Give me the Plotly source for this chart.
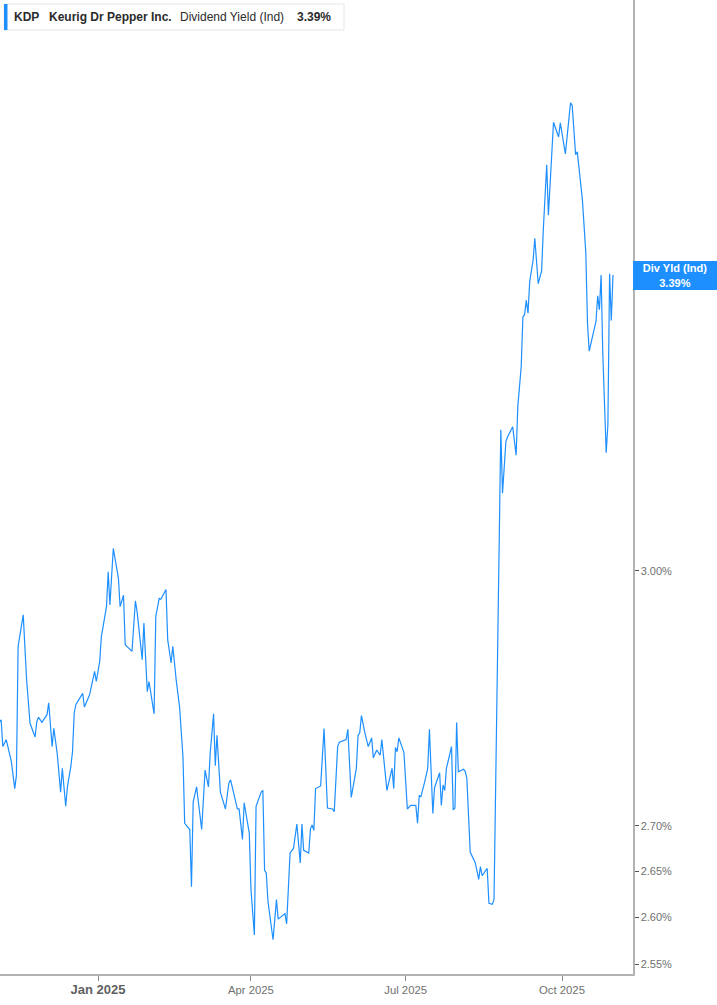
import math
import plotly.graph_objects as go

# ---- data ----
dates = [
    "2024-11-04", "2024-11-05", "2024-11-06", "2024-11-08", "2024-11-11", "2024-11-13", "2024-11-14", "2024-11-15",
    "2024-11-18", "2024-11-20", "2024-11-22", "2024-11-25", "2024-11-26", "2024-11-27", "2024-11-29", "2024-12-02",
    "2024-12-03", "2024-12-05", "2024-12-06", "2024-12-08", "2024-12-10", "2024-12-11", "2024-12-13", "2024-12-14",
    "2024-12-16", "2024-12-17", "2024-12-18", "2024-12-19", "2024-12-23", "2024-12-24", "2024-12-27", "2024-12-30",
    "2024-12-31", "2025-01-02", "2025-01-03", "2025-01-05", "2025-01-06", "2025-01-07", "2025-01-08", "2025-01-10",
    "2025-01-13", "2025-01-14", "2025-01-16", "2025-01-17", "2025-01-21", "2025-01-23", "2025-01-24", "2025-01-27",
    "2025-01-28", "2025-01-30", "2025-01-31", "2025-02-03", "2025-02-04", "2025-02-06", "2025-02-07", "2025-02-10",
    "2025-02-11", "2025-02-13", "2025-02-14", "2025-02-16", "2025-02-18", "2025-02-20", "2025-02-21", "2025-02-24",
    "2025-02-25", "2025-02-26", "2025-02-28", "2025-03-03", "2025-03-04", "2025-03-05", "2025-03-07", "2025-03-08",
    "2025-03-10", "2025-03-11", "2025-03-12", "2025-03-14", "2025-03-17", "2025-03-19", "2025-03-20", "2025-03-24",
    "2025-03-25", "2025-03-27", "2025-03-28", "2025-03-31", "2025-04-01", "2025-04-03", "2025-04-04", "2025-04-07",
    "2025-04-08", "2025-04-09", "2025-04-10", "2025-04-11", "2025-04-14", "2025-04-16", "2025-04-17", "2025-04-21",
    "2025-04-22", "2025-04-24", "2025-04-26", "2025-04-28", "2025-04-30", "2025-05-01", "2025-05-02", "2025-05-05",
    "2025-05-06", "2025-05-07", "2025-05-08", "2025-05-09", "2025-05-12", "2025-05-14", "2025-05-16", "2025-05-19",
    "2025-05-20", "2025-05-22", "2025-05-23", "2025-05-27", "2025-05-28", "2025-05-30", "2025-06-02", "2025-06-03",
    "2025-06-04", "2025-06-05", "2025-06-07", "2025-06-09", "2025-06-11", "2025-06-12", "2025-06-14", "2025-06-16",
    "2025-06-17", "2025-06-20", "2025-06-23", "2025-06-24", "2025-06-25", "2025-06-26", "2025-06-27", "2025-06-30",
    "2025-07-02", "2025-07-04", "2025-07-07", "2025-07-08", "2025-07-09", "2025-07-10", "2025-07-12", "2025-07-14",
    "2025-07-15", "2025-07-17", "2025-07-18", "2025-07-21", "2025-07-22", "2025-07-23", "2025-07-24", "2025-07-25",
    "2025-07-28", "2025-07-29", "2025-07-30", "2025-07-31", "2025-08-01", "2025-08-04", "2025-08-05", "2025-08-06",
    "2025-08-08", "2025-08-11", "2025-08-13", "2025-08-14", "2025-08-15", "2025-08-18", "2025-08-19", "2025-08-21",
    "2025-08-22", "2025-08-26", "2025-08-27", "2025-08-29", "2025-08-30", "2025-09-02", "2025-09-04", "2025-09-05",
    "2025-09-07", "2025-09-08", "2025-09-09", "2025-09-10", "2025-09-11", "2025-09-12", "2025-09-14", "2025-09-15",
    "2025-09-17", "2025-09-19", "2025-09-20", "2025-09-22", "2025-09-23", "2025-09-25", "2025-09-26", "2025-09-29",
    "2025-09-30", "2025-10-03", "2025-10-06", "2025-10-07", "2025-10-09", "2025-10-10", "2025-10-13", "2025-10-15",
    "2025-10-16", "2025-10-17", "2025-10-21", "2025-10-22", "2025-10-23", "2025-10-24", "2025-10-25", "2025-10-27",
    "2025-10-28", "2025-10-29", "2025-10-30", "2025-10-31",
]

div_yield = [
    2.818, 2.821, 2.790, 2.798, 2.773, 2.742, 2.757, 2.908,
    2.946, 2.868, 2.817, 2.801, 2.819, 2.824, 2.818, 2.827,
    2.841, 2.790, 2.811, 2.782, 2.738, 2.765, 2.722, 2.744,
    2.767, 2.784, 2.829, 2.839, 2.852, 2.836, 2.850, 2.878,
    2.866, 2.890, 2.920, 2.942, 2.956, 2.999, 2.958, 3.028,
    2.991, 2.956, 2.970, 2.910, 2.902, 2.963, 2.950, 2.892,
    2.936, 2.854, 2.866, 2.828, 2.944, 2.966, 2.965, 2.977,
    2.916, 2.888, 2.908, 2.868, 2.836, 2.778, 2.703, 2.696,
    2.633, 2.727, 2.744, 2.696, 2.738, 2.763, 2.744, 2.782,
    2.828, 2.768, 2.803, 2.738, 2.719, 2.748, 2.752, 2.719,
    2.719, 2.685, 2.726, 2.692, 2.630, 2.581, 2.722, 2.738,
    2.740, 2.651, 2.648, 2.617, 2.576, 2.619, 2.598, 2.604,
    2.593, 2.670, 2.675, 2.702, 2.659, 2.702, 2.673, 2.670,
    2.697, 2.701, 2.695, 2.742, 2.745, 2.811, 2.720, 2.719,
    2.716, 2.790, 2.795, 2.798, 2.810, 2.732, 2.765, 2.803,
    2.806, 2.826, 2.806, 2.790, 2.800, 2.777, 2.786, 2.780,
    2.798, 2.740, 2.765, 2.742, 2.789, 2.784, 2.800, 2.783,
    2.719, 2.723, 2.723, 2.703, 2.734, 2.733, 2.748, 2.765,
    2.810, 2.714, 2.743, 2.760, 2.723, 2.746, 2.740, 2.765,
    2.790, 2.718, 2.720, 2.818, 2.761, 2.764, 2.762, 2.754,
    2.671, 2.659, 2.641, 2.655, 2.645, 2.653, 2.615, 2.614,
    2.619, 3.180, 3.098, 3.165, 3.171, 3.184, 3.147, 3.211,
    3.264, 3.332, 3.335, 3.355, 3.337, 3.381, 3.411, 3.442,
    3.378, 3.396, 3.454, 3.548, 3.475, 3.560, 3.611, 3.589,
    3.610, 3.564, 3.640, 3.636, 3.563, 3.567, 3.497, 3.422,
    3.323, 3.285, 3.326, 3.361, 3.342, 3.390, 3.282, 3.150,
    3.187, 3.392, 3.327, 3.390,
]

y_tick_vals = [2.55, 2.60, 2.65, 2.70, 3.00]
y_tick_text = ["2.55%", "2.60%", "2.65%", "2.70%", "3.00%"]
x_tick_vals = ["2025-01-01", "2025-04-01", "2025-07-01", "2025-10-01"]
x_tick_text = ["Jan 2025", "Apr 2025", "Jul 2025", "Oct 2025"]

ticker = "KDP"
company = "Keurig Dr Pepper Inc."
metric = "Dividend Yield (Ind)"
badge_name = "Div Yld (Ind)"
last_value = div_yield[-1]

# ---- styling ----
BLUE = "#1e8fff"
FONT = "Liberation Sans, Arial, sans-serif"
W, H = 717, 1005
ML, MR, MT, MB = 0, 84, 0, 31
PW, PH = W - ML - MR, H - MT - MB


def px(xp):
    return xp / PW


def py(yp):
    return 1 - yp / PH


x_ticktext_fmt = [
    '<span style="font-size:13px;color:#5f5f5f"><b>%s</b></span>' % t if t.startswith("Jan") else t
    for t in x_tick_text
]

fig = go.Figure()
fig.add_trace(go.Scatter(
    x=dates, y=div_yield, mode="lines",
    line=dict(color=BLUE, width=1.2),
    hoverinfo="skip", showlegend=False,
))

fig.update_layout(
    width=W, height=H,
    margin=dict(l=ML, r=MR, t=MT, b=MB, pad=0),
    paper_bgcolor="white", plot_bgcolor="white",
    font=dict(family=FONT, color="#707070"),
    showlegend=False,
    xaxis=dict(
        type="date",
        range=["2024-11-04 08:10", "2025-11-11 18:30"],
        tickmode="array", tickvals=x_tick_vals, ticktext=x_ticktext_fmt,
        ticks="outside", ticklen=5, tickwidth=1, tickcolor="#8a8a8a",
        showline=True, linecolor="#b3b3b3", linewidth=1.5,
        showgrid=False, zeroline=False,
        tickfont=dict(size=11.3, color="#707070", family=FONT),
    ),
    yaxis=dict(
        type="log", side="right",
        range=[math.log10(2.5398), math.log10(3.798)],
        tickmode="array", tickvals=y_tick_vals, ticktext=y_tick_text,
        ticks="outside", ticklen=4, tickwidth=1, tickcolor="#555555",
        showline=True, linecolor="#b3b3b3", linewidth=1.5,
        showgrid=False, zeroline=False,
        tickfont=dict(size=11, color="#707070", family=FONT),
    ),
)

# legend header box
fig.add_shape(type="rect", xref="paper", yref="paper",
              x0=px(4), x1=px(344), y0=py(30), y1=py(4),
              line=dict(color="#e6e6e6", width=1), fillcolor="white", layer="above")
fig.add_shape(type="rect", xref="paper", yref="paper",
              x0=px(4), x1=px(7.5), y0=py(30), y1=py(4),
              line=dict(width=0), fillcolor=BLUE, layer="above")

header_parts = [
    ("<b>%s</b>" % ticker, 12.3),
    ("<b>%s</b>" % company, 47.3),
    (metric, 178),
    ("<b>%.2f%%</b>" % last_value, 294.7),
]
for txt, xpos in header_parts:
    fig.add_annotation(xref="paper", yref="paper", x=px(xpos), y=py(17),
                       xanchor="left", yanchor="middle", showarrow=False,
                       text=txt, font=dict(size=12, color="#2b2b2b", family=FONT))

# last value badge on the right axis
fig.add_annotation(xref="paper", yref="y", x=1.0, y=math.log10(last_value),
                   xanchor="left", yanchor="middle", showarrow=False,
                   text="<b>%s</b><br><b>%.2f%%</b>" % (badge_name, last_value),
                   font=dict(size=11, color="white", family=FONT),
                   bgcolor=BLUE, borderpad=0, borderwidth=0,
                   width=84, height=29, align="center")

fig.write_html(
    "out.html",
    config={"displayModeBar": False, "staticPlot": True},
    post_script="document.body.style.margin='0';document.body.style.overflow='hidden';",
)
